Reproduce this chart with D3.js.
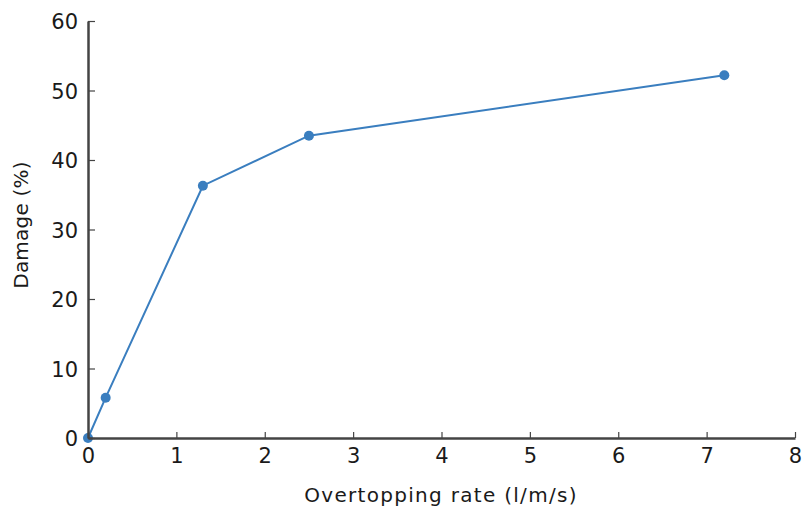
<!DOCTYPE html>
<html><head><meta charset="utf-8">
<script src="https://cdn.jsdelivr.net/npm/d3@7"></script>
<style>body{margin:0;background:#fff}svg{display:block}text{font-family:"DejaVu Sans",sans-serif;fill:#1a1a1a}</style>
</head><body><svg id="c" width="803" height="507"></svg>
<script>
const rate = [0, 0.2, 1.3, 2.5, 7.2];
const damage = [0, 5.8, 36.3, 43.5, 52.2];
const xTicks = [0,1,2,3,4,5,6,7,8];
const yTicks = [0,10,20,30,40,50,60];
const xTitle = "Overtopping rate (l/m/s)";
const yTitle = "Damage (%)";

const svg = d3.select("#c");
const x = d3.scaleLinear().domain([0,8]).range([88,795]);
const y = d3.scaleLinear().domain([0,60]).range([438,21]);
const col = "#3a7ebf";
const data = rate.map((r,i)=>({x:r,y:damage[i]}));

svg.append("path").datum(data)
  .attr("d", d3.line().x(d=>x(d.x)).y(d=>y(d.y)))
  .attr("fill","none").attr("stroke",col).attr("stroke-width",2);
svg.selectAll("circle.p").data(data).join("circle")
  .attr("cx",d=>x(d.x)).attr("cy",d=>y(d.y)).attr("r",5).attr("fill",col);

const xa = svg.append("g").attr("transform",`translate(0,${y(0)})`)
  .call(d3.axisBottom(x).tickValues(xTicks).tickSize(-6).tickPadding(10).tickSizeOuter(0));
const ya = svg.append("g").attr("transform",`translate(${x(0)},0)`)
  .call(d3.axisLeft(y).tickValues(yTicks).tickSize(-7).tickPadding(10).tickSizeOuter(0));
[xa,ya].forEach(a=>{
  a.select(".domain").attr("stroke","#444").attr("stroke-width",2.5);
  a.selectAll(".tick line").attr("stroke","#444").attr("stroke-width",1.2);
  a.selectAll(".tick text").attr("font-size",21).attr("fill","#1a1a1a").attr("font-family","DejaVu Sans");
});
ya.selectAll(".tick text").attr("dy","0.36em");

svg.append("text").attr("x",441).attr("y",502).attr("text-anchor","middle")
  .attr("font-size",20).attr("letter-spacing",1.3).text(xTitle);
svg.append("text").attr("transform","translate(28,225) rotate(-90)").attr("text-anchor","middle")
  .attr("font-size",20).attr("letter-spacing",0.2).text(yTitle);
</script></body></html>
